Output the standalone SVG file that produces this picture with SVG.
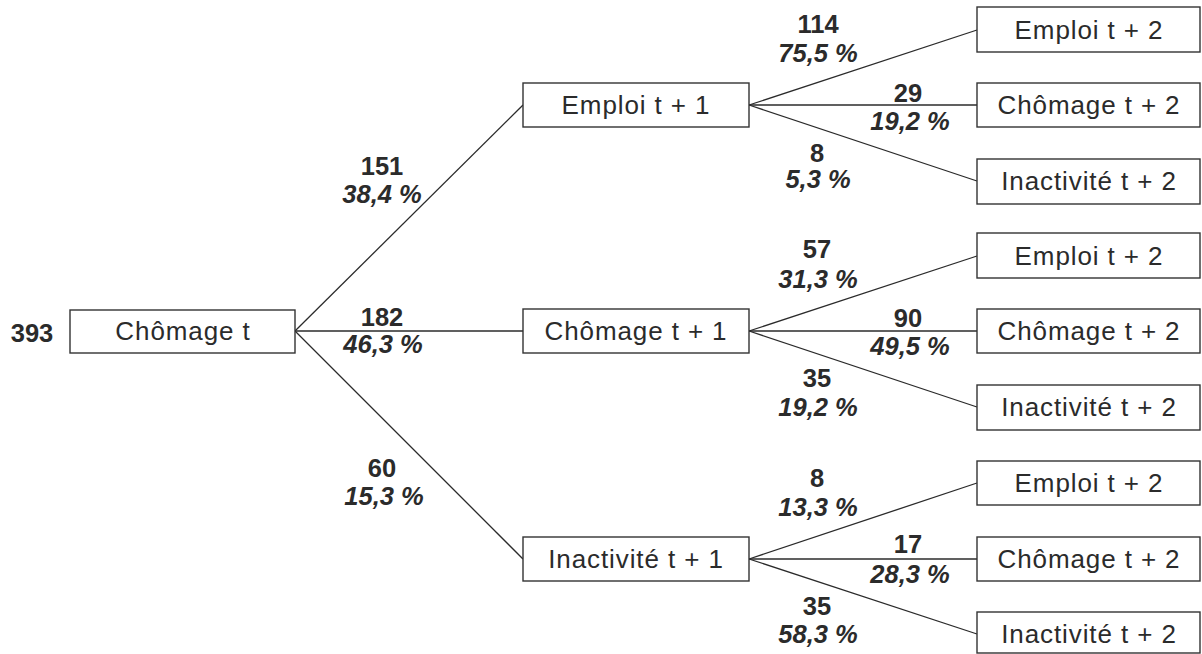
<svg xmlns="http://www.w3.org/2000/svg" width="1202" height="654" viewBox="0 0 1202 654">
<style>
.box{fill:#fff;stroke:#333;stroke-width:1.4}
.lbl{font-family:"Liberation Sans",Arial,sans-serif;font-size:26px;fill:#2b2b2b;text-anchor:middle;letter-spacing:0.9px}
.n{font-family:"Liberation Sans",Arial,sans-serif;font-size:25.5px;font-weight:bold;fill:#2b2b2b;text-anchor:middle}
.p{font-family:"Liberation Sans",Arial,sans-serif;font-size:25.5px;font-weight:bold;font-style:italic;fill:#2b2b2b;text-anchor:middle}
.c{stroke:#2b2b2b;stroke-width:1.3;fill:none}
</style>
<rect width="1202" height="654" fill="#fff"/>
<g id="connectors">
<line class="c" x1="295" y1="331" x2="523" y2="105"/>
<line class="c" x1="295" y1="331" x2="523" y2="331"/>
<line class="c" x1="295" y1="331" x2="523" y2="559"/>
<line class="c" x1="749" y1="105" x2="977" y2="30"/>
<line class="c" x1="749" y1="105" x2="977" y2="105"/>
<line class="c" x1="749" y1="105" x2="977" y2="181"/>
<line class="c" x1="749" y1="331" x2="977" y2="256"/>
<line class="c" x1="749" y1="331" x2="977" y2="331"/>
<line class="c" x1="749" y1="331" x2="977" y2="407"/>
<line class="c" x1="749" y1="559" x2="977" y2="483"/>
<line class="c" x1="749" y1="559" x2="977" y2="559"/>
<line class="c" x1="749" y1="559" x2="977" y2="634"/>
</g>
<g id="edge-labels">
<text class="n" x="382" y="175">151</text><text class="p" x="382" y="203">38,4 %</text>
<text class="n" x="382" y="326">182</text><text class="p" x="383" y="353">46,3 %</text>
<text class="n" x="382" y="477">60</text><text class="p" x="384" y="505">15,3 %</text>
<text class="n" x="818" y="33">114</text><text class="p" x="818" y="62">75,5 %</text>
<text class="n" x="908" y="102">29</text><text class="p" x="910" y="130">19,2 %</text>
<text class="n" x="817" y="162">8</text><text class="p" x="818" y="188">5,3 %</text>
<text class="n" x="817" y="258">57</text><text class="p" x="818" y="288">31,3 %</text>
<text class="n" x="908" y="327">90</text><text class="p" x="910" y="355">49,5 %</text>
<text class="n" x="817" y="387">35</text><text class="p" x="818" y="416">19,2 %</text>
<text class="n" x="817" y="487">8</text><text class="p" x="818" y="516">13,3 %</text>
<text class="n" x="908" y="553">17</text><text class="p" x="910" y="583">28,3 %</text>
<text class="n" x="817" y="615">35</text><text class="p" x="818" y="643">58,3 %</text>
</g>
<g id="total"><text class="n" x="32" y="342">393</text></g>
<g id="chomage-t"><rect class="box" x="70" y="310" width="225" height="43"/><text class="lbl" x="183" y="340">Chômage t</text></g>
<g id="emploi-t1"><rect class="box" x="523" y="83" width="226" height="44"/><text class="lbl" x="636" y="114">Emploi t + 1</text></g>
<g id="chomage-t1"><rect class="box" x="523" y="309" width="226" height="44"/><text class="lbl" x="636" y="340">Chômage t + 1</text></g>
<g id="inactivite-t1"><rect class="box" x="523" y="537" width="226" height="44"/><text class="lbl" x="636" y="568">Inactivité t + 1</text></g>
<g id="e1-emploi"><rect class="box" x="977" y="7" width="223" height="45"/><text class="lbl" x="1089" y="39">Emploi t + 2</text></g>
<g id="e1-chomage"><rect class="box" x="977" y="83" width="223" height="44"/><text class="lbl" x="1089" y="114">Chômage t + 2</text></g>
<g id="e1-inactivite"><rect class="box" x="977" y="159" width="223" height="45"/><text class="lbl" x="1089" y="190">Inactivité t + 2</text></g>
<g id="c1-emploi"><rect class="box" x="977" y="233" width="223" height="45"/><text class="lbl" x="1089" y="265">Emploi t + 2</text></g>
<g id="c1-chomage"><rect class="box" x="977" y="309" width="223" height="44"/><text class="lbl" x="1089" y="340">Chômage t + 2</text></g>
<g id="c1-inactivite"><rect class="box" x="977" y="385" width="223" height="45"/><text class="lbl" x="1089" y="416">Inactivité t + 2</text></g>
<g id="i1-emploi"><rect class="box" x="977" y="461" width="223" height="44"/><text class="lbl" x="1089" y="492">Emploi t + 2</text></g>
<g id="i1-chomage"><rect class="box" x="977" y="537" width="223" height="44"/><text class="lbl" x="1089" y="568">Chômage t + 2</text></g>
<g id="i1-inactivite"><rect class="box" x="977" y="612" width="223" height="41"/><text class="lbl" x="1089" y="643">Inactivité t + 2</text></g>
</svg>
